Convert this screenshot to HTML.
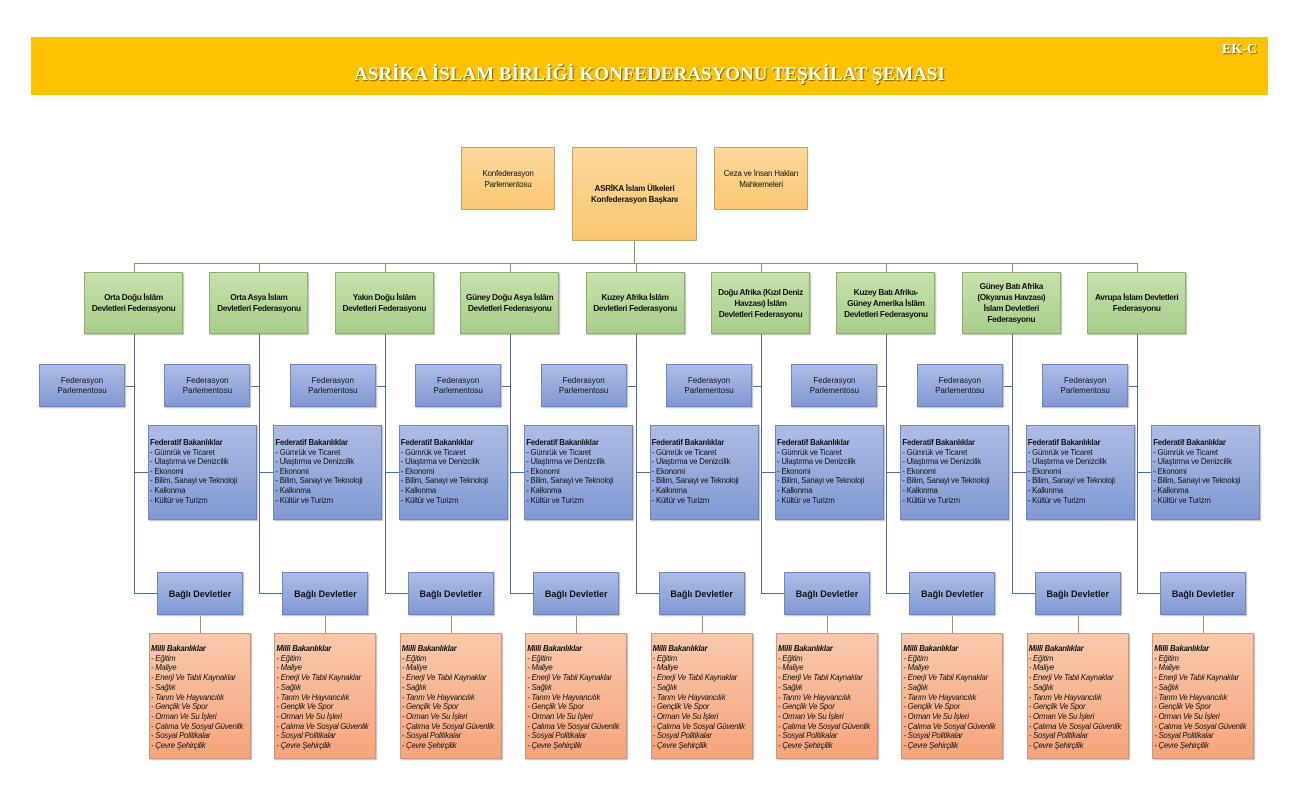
<!DOCTYPE html>
<html><head><meta charset="utf-8"><style>
*{margin:0;padding:0;box-sizing:border-box}
body{width:1305px;height:802px;background:#fff;position:relative;overflow:hidden;font-family:"Liberation Sans",sans-serif;color:#111}
.ab{position:absolute}
.banner{left:31px;top:37px;width:1237px;height:58px;background:#fec200}
.title{left:31px;top:64px;width:1237px;text-align:center;font-family:"Liberation Serif",serif;font-weight:bold;font-size:19px;color:#fff;text-shadow:1px 1px 1px #7a5a00}
.ek{left:1222px;top:42px;font-family:"Liberation Serif",serif;font-weight:bold;font-size:14px;color:#fff;text-shadow:1px 1px 1px #7a5a00}
.box{position:absolute;display:flex;align-items:center;justify-content:center;text-align:center;white-space:nowrap}
.org{background:linear-gradient(#fcd79b,#f9c873);border:1px solid #c9a468;font-size:8px;line-height:11px;letter-spacing:-0.2px}
.grn{background:linear-gradient(#c8e1ad,#a8ce89);border:1px solid #8faf72;font-size:8.3px;font-weight:bold;line-height:11px;letter-spacing:-0.35px;box-shadow:1px 1px 1px #bbb}
.blu{background:linear-gradient(#aebce4,#8199d4);border:1px solid #6f86bf;box-shadow:1px 1px 1px #bbb}
.col{position:absolute;top:0;width:1305px;height:802px}
.gl{background:#77a24f}
.bl{background:#4a6ca6}
.ol{background:#d0874c}
.fp{left:39px;top:364px;width:86px;height:43px;font-size:8px;line-height:10px}
.fb{position:absolute;left:148px;top:425px;width:109px;height:95px;font-size:7.8px;line-height:9.6px;padding:12px 0 0 1px;text-align:left;white-space:nowrap;letter-spacing:-0.2px}
.bd{left:157px;top:572px;width:86px;height:43px;font-size:9px;font-weight:bold}
.mb{position:absolute;left:149px;top:633px;width:102px;height:126px;background:linear-gradient(#f9c9ad,#f5a47b);border:1px solid #c9977a;font-size:7.8px;line-height:9.7px;font-style:italic;padding:10px 0 0 1px;box-shadow:1px 1px 1px #bbb;white-space:nowrap;letter-spacing:-0.25px}
</style></head><body>
<div class="ab banner"></div>
<div class="ab title">ASRİKA İSLAM BİRLİĞİ KONFEDERASYONU TEŞKİLAT ŞEMASI</div>
<div class="ab ek">EK-C</div>

<div class="box org" style="left:461px;top:147px;width:94px;height:63px">Konfederasyon<br>Parlementosu</div>
<div class="box org" style="left:572px;top:147px;width:125px;height:94px;font-weight:bold">ASRİKA İslam Ülkeleri<br>Konfederasyon Başkanı</div>
<div class="box org" style="left:714px;top:147px;width:94px;height:63px">Ceza ve İnsan Hakları<br>Mahkemeleri</div>
<div class="ab gl" style="left:634px;top:241px;width:1px;height:22px"></div>
<div class="ab gl" style="left:134px;top:263px;width:1004px;height:1px"></div>

<div class="col" style="left:0px">
<div class="ab gl" style="left:134px;top:263px;width:1px;height:9px"></div>
<div class="box grn" style="left:84px;top:272px;width:99px;height:62px">Orta Doğu İslâm<br>Devletleri Federasyonu</div>
<div class="ab bl" style="left:134px;top:334px;width:1px;height:260px"></div>
<div class="ab bl" style="left:125px;top:386px;width:9px;height:1px"></div>
<div class="ab bl" style="left:134px;top:472px;width:14px;height:1px"></div>
<div class="ab bl" style="left:134px;top:593px;width:23px;height:1px"></div>
<div class="ab ol" style="left:200px;top:615px;width:1px;height:18px"></div>
<div class="box blu fp">Federasyon<br>Parlementosu</div>
<div class="blu fb"><b>Federatif Bakanlıklar</b><br>- Gümrük ve Ticaret<br>- Ulaştırma ve Denizcilik<br>- Ekonomi<br>- Bilim, Sanayi ve Teknoloji<br>- Kalkınma<br>- Kültür ve Turizm</div>
<div class="box blu bd">Bağlı Devletler</div>
<div class="mb"><b>Milli Bakanlıklar</b><br>- Eğitim<br>- Maliye<br>- Enerji Ve Tabii Kaynaklar<br>- Sağlık<br>- Tarım Ve Hayvancılık<br>- Gençlik Ve Spor<br>- Orman Ve Su İşleri<br>- Çalıma Ve Sosyal Güvenlik<br>- Sosyal Politikalar<br>- Çevre Şehirçilik</div>
</div>

<div class="col" style="left:125.4px">
<div class="ab gl" style="left:134px;top:263px;width:1px;height:9px"></div>
<div class="box grn" style="left:84px;top:272px;width:99px;height:62px">Orta Asya İslam<br>Devletleri Federasyonu</div>
<div class="ab bl" style="left:134px;top:334px;width:1px;height:260px"></div>
<div class="ab bl" style="left:125px;top:386px;width:9px;height:1px"></div>
<div class="ab bl" style="left:134px;top:472px;width:14px;height:1px"></div>
<div class="ab bl" style="left:134px;top:593px;width:23px;height:1px"></div>
<div class="ab ol" style="left:200px;top:615px;width:1px;height:18px"></div>
<div class="box blu fp">Federasyon<br>Parlementosu</div>
<div class="blu fb"><b>Federatif Bakanlıklar</b><br>- Gümrük ve Ticaret<br>- Ulaştırma ve Denizcilik<br>- Ekonomi<br>- Bilim, Sanayi ve Teknoloji<br>- Kalkınma<br>- Kültür ve Turizm</div>
<div class="box blu bd">Bağlı Devletler</div>
<div class="mb"><b>Milli Bakanlıklar</b><br>- Eğitim<br>- Maliye<br>- Enerji Ve Tabii Kaynaklar<br>- Sağlık<br>- Tarım Ve Hayvancılık<br>- Gençlik Ve Spor<br>- Orman Ve Su İşleri<br>- Çalıma Ve Sosyal Güvenlik<br>- Sosyal Politikalar<br>- Çevre Şehirçilik</div>
</div>

<div class="col" style="left:250.8px">
<div class="ab gl" style="left:134px;top:263px;width:1px;height:9px"></div>
<div class="box grn" style="left:84px;top:272px;width:99px;height:62px">Yakın Doğu İslâm<br>Devletleri Federasyonu</div>
<div class="ab bl" style="left:134px;top:334px;width:1px;height:260px"></div>
<div class="ab bl" style="left:125px;top:386px;width:9px;height:1px"></div>
<div class="ab bl" style="left:134px;top:472px;width:14px;height:1px"></div>
<div class="ab bl" style="left:134px;top:593px;width:23px;height:1px"></div>
<div class="ab ol" style="left:200px;top:615px;width:1px;height:18px"></div>
<div class="box blu fp">Federasyon<br>Parlementosu</div>
<div class="blu fb"><b>Federatif Bakanlıklar</b><br>- Gümrük ve Ticaret<br>- Ulaştırma ve Denizcilik<br>- Ekonomi<br>- Bilim, Sanayi ve Teknoloji<br>- Kalkınma<br>- Kültür ve Turizm</div>
<div class="box blu bd">Bağlı Devletler</div>
<div class="mb"><b>Milli Bakanlıklar</b><br>- Eğitim<br>- Maliye<br>- Enerji Ve Tabii Kaynaklar<br>- Sağlık<br>- Tarım Ve Hayvancılık<br>- Gençlik Ve Spor<br>- Orman Ve Su İşleri<br>- Çalıma Ve Sosyal Güvenlik<br>- Sosyal Politikalar<br>- Çevre Şehirçilik</div>
</div>

<div class="col" style="left:376.2px">
<div class="ab gl" style="left:134px;top:263px;width:1px;height:9px"></div>
<div class="box grn" style="left:84px;top:272px;width:99px;height:62px">Güney Doğu Asya İslâm<br>Devletleri Federasyonu</div>
<div class="ab bl" style="left:134px;top:334px;width:1px;height:260px"></div>
<div class="ab bl" style="left:125px;top:386px;width:9px;height:1px"></div>
<div class="ab bl" style="left:134px;top:472px;width:14px;height:1px"></div>
<div class="ab bl" style="left:134px;top:593px;width:23px;height:1px"></div>
<div class="ab ol" style="left:200px;top:615px;width:1px;height:18px"></div>
<div class="box blu fp">Federasyon<br>Parlementosu</div>
<div class="blu fb"><b>Federatif Bakanlıklar</b><br>- Gümrük ve Ticaret<br>- Ulaştırma ve Denizcilik<br>- Ekonomi<br>- Bilim, Sanayi ve Teknoloji<br>- Kalkınma<br>- Kültür ve Turizm</div>
<div class="box blu bd">Bağlı Devletler</div>
<div class="mb"><b>Milli Bakanlıklar</b><br>- Eğitim<br>- Maliye<br>- Enerji Ve Tabii Kaynaklar<br>- Sağlık<br>- Tarım Ve Hayvancılık<br>- Gençlik Ve Spor<br>- Orman Ve Su İşleri<br>- Çalıma Ve Sosyal Güvenlik<br>- Sosyal Politikalar<br>- Çevre Şehirçilik</div>
</div>

<div class="col" style="left:501.6px">
<div class="ab gl" style="left:134px;top:263px;width:1px;height:9px"></div>
<div class="box grn" style="left:84px;top:272px;width:99px;height:62px">Kuzey Afrika İslâm<br>Devletleri Federasyonu</div>
<div class="ab bl" style="left:134px;top:334px;width:1px;height:260px"></div>
<div class="ab bl" style="left:125px;top:386px;width:9px;height:1px"></div>
<div class="ab bl" style="left:134px;top:472px;width:14px;height:1px"></div>
<div class="ab bl" style="left:134px;top:593px;width:23px;height:1px"></div>
<div class="ab ol" style="left:200px;top:615px;width:1px;height:18px"></div>
<div class="box blu fp">Federasyon<br>Parlementosu</div>
<div class="blu fb"><b>Federatif Bakanlıklar</b><br>- Gümrük ve Ticaret<br>- Ulaştırma ve Denizcilik<br>- Ekonomi<br>- Bilim, Sanayi ve Teknoloji<br>- Kalkınma<br>- Kültür ve Turizm</div>
<div class="box blu bd">Bağlı Devletler</div>
<div class="mb"><b>Milli Bakanlıklar</b><br>- Eğitim<br>- Maliye<br>- Enerji Ve Tabii Kaynaklar<br>- Sağlık<br>- Tarım Ve Hayvancılık<br>- Gençlik Ve Spor<br>- Orman Ve Su İşleri<br>- Çalıma Ve Sosyal Güvenlik<br>- Sosyal Politikalar<br>- Çevre Şehirçilik</div>
</div>

<div class="col" style="left:627px">
<div class="ab gl" style="left:134px;top:263px;width:1px;height:9px"></div>
<div class="box grn" style="left:84px;top:272px;width:99px;height:62px">Doğu Afrika (Kızıl Deniz<br>Havzası) İslâm<br>Devletleri Federasyonu</div>
<div class="ab bl" style="left:134px;top:334px;width:1px;height:260px"></div>
<div class="ab bl" style="left:125px;top:386px;width:9px;height:1px"></div>
<div class="ab bl" style="left:134px;top:472px;width:14px;height:1px"></div>
<div class="ab bl" style="left:134px;top:593px;width:23px;height:1px"></div>
<div class="ab ol" style="left:200px;top:615px;width:1px;height:18px"></div>
<div class="box blu fp">Federasyon<br>Parlementosu</div>
<div class="blu fb"><b>Federatif Bakanlıklar</b><br>- Gümrük ve Ticaret<br>- Ulaştırma ve Denizcilik<br>- Ekonomi<br>- Bilim, Sanayi ve Teknoloji<br>- Kalkınma<br>- Kültür ve Turizm</div>
<div class="box blu bd">Bağlı Devletler</div>
<div class="mb"><b>Milli Bakanlıklar</b><br>- Eğitim<br>- Maliye<br>- Enerji Ve Tabii Kaynaklar<br>- Sağlık<br>- Tarım Ve Hayvancılık<br>- Gençlik Ve Spor<br>- Orman Ve Su İşleri<br>- Çalıma Ve Sosyal Güvenlik<br>- Sosyal Politikalar<br>- Çevre Şehirçilik</div>
</div>

<div class="col" style="left:752.4px">
<div class="ab gl" style="left:134px;top:263px;width:1px;height:9px"></div>
<div class="box grn" style="left:84px;top:272px;width:99px;height:62px">Kuzey Batı Afrika-<br>Güney Amerika İslâm<br>Devletleri Federasyonu</div>
<div class="ab bl" style="left:134px;top:334px;width:1px;height:260px"></div>
<div class="ab bl" style="left:125px;top:386px;width:9px;height:1px"></div>
<div class="ab bl" style="left:134px;top:472px;width:14px;height:1px"></div>
<div class="ab bl" style="left:134px;top:593px;width:23px;height:1px"></div>
<div class="ab ol" style="left:200px;top:615px;width:1px;height:18px"></div>
<div class="box blu fp">Federasyon<br>Parlementosu</div>
<div class="blu fb"><b>Federatif Bakanlıklar</b><br>- Gümrük ve Ticaret<br>- Ulaştırma ve Denizcilik<br>- Ekonomi<br>- Bilim, Sanayi ve Teknoloji<br>- Kalkınma<br>- Kültür ve Turizm</div>
<div class="box blu bd">Bağlı Devletler</div>
<div class="mb"><b>Milli Bakanlıklar</b><br>- Eğitim<br>- Maliye<br>- Enerji Ve Tabii Kaynaklar<br>- Sağlık<br>- Tarım Ve Hayvancılık<br>- Gençlik Ve Spor<br>- Orman Ve Su İşleri<br>- Çalıma Ve Sosyal Güvenlik<br>- Sosyal Politikalar<br>- Çevre Şehirçilik</div>
</div>

<div class="col" style="left:877.8px">
<div class="ab gl" style="left:134px;top:263px;width:1px;height:9px"></div>
<div class="box grn" style="left:84px;top:272px;width:99px;height:62px">Güney Batı Afrika<br>(Okyanus Havzası)<br>İslam Devletleri<br>Federasyonu</div>
<div class="ab bl" style="left:134px;top:334px;width:1px;height:260px"></div>
<div class="ab bl" style="left:125px;top:386px;width:9px;height:1px"></div>
<div class="ab bl" style="left:134px;top:472px;width:14px;height:1px"></div>
<div class="ab bl" style="left:134px;top:593px;width:23px;height:1px"></div>
<div class="ab ol" style="left:200px;top:615px;width:1px;height:18px"></div>
<div class="box blu fp">Federasyon<br>Parlementosu</div>
<div class="blu fb"><b>Federatif Bakanlıklar</b><br>- Gümrük ve Ticaret<br>- Ulaştırma ve Denizcilik<br>- Ekonomi<br>- Bilim, Sanayi ve Teknoloji<br>- Kalkınma<br>- Kültür ve Turizm</div>
<div class="box blu bd">Bağlı Devletler</div>
<div class="mb"><b>Milli Bakanlıklar</b><br>- Eğitim<br>- Maliye<br>- Enerji Ve Tabii Kaynaklar<br>- Sağlık<br>- Tarım Ve Hayvancılık<br>- Gençlik Ve Spor<br>- Orman Ve Su İşleri<br>- Çalıma Ve Sosyal Güvenlik<br>- Sosyal Politikalar<br>- Çevre Şehirçilik</div>
</div>

<div class="col" style="left:1003.2px">
<div class="ab gl" style="left:134px;top:263px;width:1px;height:9px"></div>
<div class="box grn" style="left:84px;top:272px;width:99px;height:62px">Avrupa İslam Devletleri<br>Federasyonu</div>
<div class="ab bl" style="left:134px;top:334px;width:1px;height:260px"></div>
<div class="ab bl" style="left:125px;top:386px;width:9px;height:1px"></div>
<div class="ab bl" style="left:134px;top:472px;width:14px;height:1px"></div>
<div class="ab bl" style="left:134px;top:593px;width:23px;height:1px"></div>
<div class="ab ol" style="left:200px;top:615px;width:1px;height:18px"></div>
<div class="box blu fp">Federasyon<br>Parlementosu</div>
<div class="blu fb"><b>Federatif Bakanlıklar</b><br>- Gümrük ve Ticaret<br>- Ulaştırma ve Denizcilik<br>- Ekonomi<br>- Bilim, Sanayi ve Teknoloji<br>- Kalkınma<br>- Kültür ve Turizm</div>
<div class="box blu bd">Bağlı Devletler</div>
<div class="mb"><b>Milli Bakanlıklar</b><br>- Eğitim<br>- Maliye<br>- Enerji Ve Tabii Kaynaklar<br>- Sağlık<br>- Tarım Ve Hayvancılık<br>- Gençlik Ve Spor<br>- Orman Ve Su İşleri<br>- Çalıma Ve Sosyal Güvenlik<br>- Sosyal Politikalar<br>- Çevre Şehirçilik</div>
</div>
</body></html>
